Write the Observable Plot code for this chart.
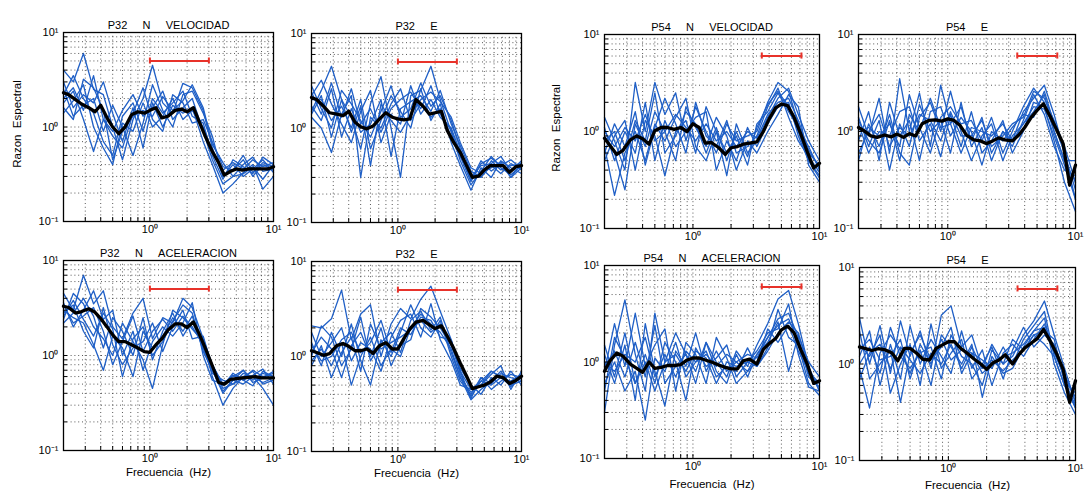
<!DOCTYPE html>
<html><head><meta charset="utf-8">
<script src="https://cdn.jsdelivr.net/npm/d3@7"></script>
<script src="https://cdn.jsdelivr.net/npm/@observablehq/plot@0.6"></script>
<style>
body{margin:0;background:#fff;}
#root{position:relative;width:1086px;height:493px;overflow:hidden;font-family:"Liberation Sans",Arial,sans-serif;}
#root svg{position:absolute;overflow:visible;}
.ylab{position:absolute;white-space:nowrap;font-size:11.5px;color:#000;transform:translate(-50%,-50%) rotate(-90deg);line-height:1;}
</style></head><body><div id="root"></div>
<script>
// ---- data ----
const freqMean = [0.2,0.22,0.25,0.28,0.32,0.36,0.4,0.45,0.5,0.56,0.63,0.71,0.8,0.9,1.0,1.12,1.25,1.4,1.6,1.8,2.0,2.25,2.5,2.8,3.2,3.6,4.0,4.5,5.0,5.6,6.3,7.1,8.0,9.0,10];
const freqBlue = [0.2,0.24,0.29,0.35,0.42,0.5,0.6,0.73,0.88,1.05,1.27,1.53,1.85,2.2,2.7,3.2,3.9,4.7,5.7,6.8,8.2,10];

const titles = ["P32\u00a0\u00a0\u00a0\u00a0\u00a0N\u00a0\u00a0\u00a0\u00a0\u00a0VELOCIDAD","P32\u00a0\u00a0\u00a0\u00a0\u00a0E",
  "P32\u00a0\u00a0\u00a0\u00a0\u00a0N\u00a0\u00a0\u00a0\u00a0\u00a0ACELERACION","P32\u00a0\u00a0\u00a0\u00a0\u00a0E",
  "P54\u00a0\u00a0\u00a0\u00a0\u00a0N\u00a0\u00a0\u00a0\u00a0\u00a0VELOCIDAD","P54\u00a0\u00a0\u00a0\u00a0\u00a0E",
  "P54\u00a0\u00a0\u00a0\u00a0\u00a0N\u00a0\u00a0\u00a0\u00a0\u00a0ACELERACION","P54\u00a0\u00a0\u00a0\u00a0\u00a0E"];
const yAxisTitle = "Razon\u00a0\u00a0Espectral";
const xAxisTitle = "Frecuencia\u00a0\u00a0(Hz)";
const xTicks = [1,10];
const xTickLabels = ["10\u2070","10\u00b9"];
const yTicks = [0.1,1,10];
const yTickLabels = ["10\u207b\u00b9","10\u2070","10\u00b9"];
const xGrid = [0.3,0.4,0.5,0.6,0.7,0.8,0.9,1,2,3,4,5,6,7,8,9];
const yGrid = [0.2,0.3,0.4,0.5,0.6,0.7,0.8,0.9,1,2,3,4,5,6,7,8,9];
const barP32 = {x1:1.0, x2:3.0, y:5};
const barP54 = {x1:3.5, x2:7.2, y:6};

const meanP32NVel = [2.3,2.2,1.95,1.75,1.6,1.45,1.7,1.25,1.0,0.85,1.0,1.35,1.45,1.4,1.5,1.6,1.25,1.3,1.5,1.55,1.45,1.6,1.15,0.8,0.55,0.42,0.31,0.34,0.36,0.35,0.36,0.36,0.36,0.36,0.38];
const meanP32EVel = [2.1,2.0,1.7,1.45,1.4,1.35,1.5,1.15,1.03,0.98,1.05,1.25,1.45,1.3,1.25,1.22,1.25,2.0,1.7,1.4,1.45,1.5,0.95,0.72,0.55,0.4,0.3,0.31,0.36,0.4,0.4,0.4,0.34,0.39,0.4];
const meanP32NAcc = [3.3,3.2,2.8,2.9,3.1,2.85,2.45,2.0,1.65,1.4,1.4,1.3,1.2,1.1,1.08,1.3,1.5,1.85,2.15,2.15,1.97,2.25,1.7,1.2,0.78,0.52,0.5,0.56,0.57,0.58,0.59,0.6,0.58,0.58,0.58];
const meanP32EAcc = [1.15,1.1,1.03,1.07,1.3,1.37,1.28,1.15,1.15,1.2,1.08,1.3,1.4,1.2,1.2,1.55,1.95,2.3,2.4,2.15,1.97,2.1,1.65,1.25,0.85,0.62,0.46,0.48,0.5,0.54,0.62,0.6,0.52,0.56,0.62];
const meanP54NVel = [0.85,0.72,0.58,0.64,0.82,0.9,0.84,0.74,1.02,1.1,1.1,1.05,1.1,1.0,1.2,1.1,0.76,0.77,0.68,0.58,0.68,0.7,0.74,0.76,0.78,1.0,1.35,1.75,1.92,1.85,1.4,0.95,0.62,0.42,0.47];
const meanP54EVel = [1.1,1.02,0.9,0.87,0.92,0.88,0.94,0.87,0.95,0.9,1.2,1.3,1.32,1.28,1.35,1.3,1.15,0.92,0.82,0.8,0.75,0.8,0.86,0.82,0.8,0.92,1.1,1.4,1.65,1.93,1.45,1.05,0.75,0.28,0.45];
const meanP54NAcc = [0.8,1.02,1.24,1.15,0.95,0.86,0.78,1.0,0.86,0.88,0.92,0.92,0.94,1.05,1.1,1.1,1.05,1.0,0.93,0.88,0.85,0.85,1.03,1.07,0.95,1.35,1.55,1.75,2.15,2.35,2.0,1.35,0.95,0.6,0.64];
const meanP54EAcc = [1.5,1.45,1.38,1.44,1.4,1.3,1.08,1.45,1.45,1.3,1.12,1.1,1.45,1.58,1.7,1.7,1.45,1.3,1.12,1.0,0.88,1.03,1.1,1.25,1.0,1.26,1.47,1.65,1.83,2.28,1.75,1.28,0.88,0.4,0.67];

const blueP32NVel = [
  [4.0,3.0,6.0,2.5,2.2,1.0,0.45,1.2,2.0,4.5,1.8,1.4,2.9,2.6,1.5,0.6,0.3,0.35,0.45,0.3,0.4,0.35],
  [2.0,2.6,1.5,3.5,1.2,0.9,1.5,2.2,1.3,1.6,2.4,1.2,1.6,2.0,0.9,0.45,0.25,0.3,0.32,0.38,0.28,0.4],
  [1.4,1.9,2.8,1.0,0.6,0.4,1.1,0.9,1.8,1.0,1.3,2.0,1.2,1.5,1.0,0.55,0.35,0.42,0.36,0.45,0.38,0.42],
  [3.0,1.6,2.2,1.8,3.0,1.4,0.7,1.6,0.6,1.8,1.0,1.7,1.4,1.6,0.7,0.4,0.2,0.25,0.33,0.4,0.22,0.3],
  [1.8,2.4,1.2,0.55,1.2,0.8,0.6,1.4,2.6,1.2,0.9,2.2,1.8,1.1,1.2,0.7,0.38,0.35,0.5,0.33,0.42,0.38],
  [2.5,1.3,1.7,2.0,0.9,1.7,1.0,0.5,1.1,2.8,1.5,1.0,2.2,2.4,1.4,0.8,0.3,0.4,0.3,0.36,0.45,0.33],
  [2.2,3.5,2.0,1.4,0.7,0.5,1.3,1.8,0.9,2.0,1.4,1.8,2.4,1.3,1.1,0.5,0.28,0.45,0.38,0.32,0.48,0.4],
  [1.6,1.2,3.2,2.6,1.5,0.45,0.9,1.3,1.5,1.3,2.1,1.5,1.9,2.8,1.6,0.65,0.42,0.3,0.4,0.48,0.34,0.36]];
const blueP32EVel = [
  [1.5,2.5,4.5,2.0,1.3,0.6,1.8,3.5,1.0,0.3,2.2,2.5,4.5,2.0,0.9,0.45,0.25,0.35,0.5,0.38,0.32,0.4],
  [2.8,1.6,1.0,2.5,1.8,1.2,0.8,1.5,2.8,1.3,1.6,3.0,1.7,2.2,1.2,0.6,0.3,0.4,0.42,0.5,0.35,0.45],
  [1.3,1.0,0.55,1.4,2.2,0.3,1.3,1.0,1.8,2.6,1.2,1.8,1.3,1.6,0.8,0.5,0.32,0.3,0.4,0.33,0.42,0.36],
  [2.2,3.2,1.8,1.1,0.7,1.5,2.5,0.7,1.4,1.1,2.8,1.4,2.0,1.3,1.0,0.55,0.28,0.45,0.35,0.42,0.3,0.38],
  [1.7,1.2,2.6,0.8,1.6,0.9,1.1,2.0,0.5,1.6,1.9,2.2,1.5,2.5,1.1,0.65,0.35,0.3,0.45,0.36,0.4,0.42],
  [2.0,2.0,1.2,1.7,1.0,2.0,0.6,1.2,2.2,1.5,1.0,2.6,1.2,1.8,0.7,0.4,0.22,0.38,0.3,0.45,0.38,0.33],
  [2.4,1.4,3.0,1.3,2.6,1.1,1.6,0.9,1.6,2.0,2.4,1.6,2.8,1.4,0.95,0.5,0.27,0.42,0.48,0.4,0.46,0.37],
  [1.4,2.2,0.8,2.0,0.9,1.7,0.4,1.8,1.2,0.9,1.4,2.0,2.4,1.9,1.3,0.7,0.38,0.33,0.38,0.44,0.3,0.43]];
const blueP32NAcc = [
  [4.5,3.0,7.0,3.5,4.8,2.0,1.5,2.8,4.0,1.5,2.5,2.2,4.0,3.2,1.5,0.8,0.5,0.6,0.7,0.55,0.65,0.6],
  [3.0,2.5,2.2,1.3,0.7,1.6,1.2,0.6,1.8,1.2,1.6,2.5,1.8,2.6,1.2,0.7,0.4,0.55,0.5,0.6,0.52,0.58],
  [2.4,4.5,3.5,2.0,1.5,1.0,2.2,1.4,0.9,0.45,1.3,3.0,2.5,1.9,1.4,0.6,0.3,0.45,0.6,0.68,0.5,0.55],
  [3.6,2.0,3.0,4.8,2.4,3.0,1.0,1.8,0.7,1.4,2.0,1.6,2.2,3.6,1.0,0.55,0.5,0.62,0.55,0.48,0.68,0.6],
  [2.8,3.4,1.8,1.2,3.2,1.3,0.8,1.2,1.4,2.2,1.1,2.0,3.0,1.5,1.6,0.75,0.45,0.5,0.65,0.6,0.45,0.3],
  [2.2,2.8,4.0,2.6,1.2,2.5,1.8,1.0,2.5,0.9,1.8,2.8,1.6,2.3,1.2,0.65,0.55,0.5,0.58,0.7,0.6,0.65],
  [3.4,2.2,2.6,3.2,1.8,0.8,1.4,2.6,1.1,1.8,2.4,1.8,2.6,2.0,1.3,0.8,0.48,0.65,0.55,0.62,0.72,0.5],
  [2.6,3.8,2.4,1.6,2.8,1.9,0.6,1.5,2.0,1.0,1.4,2.3,3.4,2.8,1.1,0.7,0.42,0.55,0.7,0.52,0.58,0.68]];
const blueP32EAcc = [
  [2.1,2.0,2.5,5.0,1.5,2.8,3.5,1.0,2.2,3.2,2.5,4.0,5.5,3.0,1.5,0.7,0.45,0.55,0.7,0.6,0.5,0.6],
  [0.9,1.2,0.8,1.4,0.5,1.0,1.6,0.8,1.2,1.0,2.0,2.8,2.2,1.8,1.2,0.6,0.35,0.45,0.55,0.7,0.5,0.55],
  [1.4,0.8,1.8,1.0,2.2,0.9,0.5,1.5,1.0,1.8,3.5,2.0,1.6,2.4,1.0,0.55,0.4,0.6,0.45,0.55,0.65,0.6],
  [1.1,1.6,1.2,0.6,1.3,1.8,1.0,2.0,0.8,1.3,1.5,3.2,2.6,2.0,1.3,0.75,0.5,0.4,0.6,0.5,0.7,0.5],
  [1.8,1.0,1.4,2.0,0.9,1.4,1.2,0.7,1.6,2.4,2.8,1.6,3.6,1.5,0.9,0.5,0.45,0.5,0.65,0.8,0.45,0.7],
  [0.8,1.3,0.6,1.1,1.6,0.7,2.2,1.2,1.4,1.6,1.9,2.4,1.8,2.2,1.4,0.65,0.38,0.55,0.5,0.6,0.55,0.65],
  [1.0,2.1,1.6,0.8,1.2,2.6,0.9,1.4,1.8,1.1,2.4,3.0,1.9,2.6,1.1,0.6,0.42,0.5,0.7,0.62,0.48,0.62],
  [1.3,0.9,1.0,1.5,1.8,1.1,1.4,2.4,1.1,2.0,1.7,2.6,2.4,1.6,1.5,0.7,0.36,0.6,0.52,0.66,0.6,0.56]];
const blueP54NVel = [
  [1.4,0.8,0.4,3.2,1.0,3.2,1.5,2.5,0.8,1.8,1.0,0.6,1.2,0.8,0.9,1.0,2.0,3.2,2.6,1.2,0.6,0.45],
  [0.7,0.22,0.6,1.0,0.5,1.2,0.8,1.4,2.2,0.7,0.5,1.0,0.35,1.2,0.6,0.8,1.4,2.2,2.8,1.5,0.8,0.5],
  [1.1,0.5,1.0,0.6,2.0,0.5,1.3,0.7,1.0,1.4,1.6,0.4,0.8,0.5,1.1,0.7,1.2,1.8,2.0,0.9,0.5,0.35],
  [0.5,0.9,1.3,0.4,1.3,0.9,0.35,1.0,1.3,0.6,1.8,1.0,0.6,0.9,0.45,1.2,1.6,2.5,1.6,1.1,0.7,0.4],
  [0.9,0.6,0.25,1.2,0.7,1.6,1.0,0.5,1.8,1.1,0.7,1.4,0.9,0.4,0.8,0.6,1.0,1.5,2.4,1.8,0.45,0.3],
  [0.6,1.2,0.7,1.6,0.45,1.1,2.2,1.2,0.6,2.0,0.9,0.7,1.3,0.6,0.7,0.9,1.8,2.8,1.4,0.8,0.55,0.38],
  [1.0,0.7,1.1,0.8,1.5,0.8,1.0,1.5,1.1,0.8,1.2,0.8,1.0,0.7,1.0,0.85,1.5,2.0,2.2,1.3,0.65,0.42],
  [0.8,1.0,0.5,1.3,0.8,2.5,0.6,0.9,1.6,1.2,0.6,1.1,0.5,1.0,0.55,1.1,1.9,2.6,1.8,1.0,0.5,0.33]];
const blueP54EVel = [
  [1.8,0.9,2.2,0.6,3.5,1.0,2.5,0.7,3.0,1.2,1.8,0.8,1.4,0.6,1.0,0.8,1.6,2.2,3.0,1.5,0.6,0.2],
  [0.5,1.2,0.7,1.5,0.6,0.45,1.4,2.0,1.0,2.6,1.0,0.5,0.9,1.2,0.5,0.9,1.2,1.6,2.4,1.0,0.5,0.3],
  [1.2,0.6,1.0,0.9,1.6,1.8,0.8,1.2,0.55,1.5,0.7,1.6,0.6,0.8,1.3,0.6,1.0,2.0,1.8,0.8,0.3,0.15],
  [0.8,1.6,0.5,2.0,0.9,1.3,0.5,1.6,1.8,0.9,1.4,1.0,0.45,1.0,0.8,1.1,1.5,1.4,2.6,1.2,0.6,0.25],
  [1.4,0.7,1.3,0.4,1.2,0.7,1.9,1.0,1.3,0.6,2.0,0.7,1.1,0.5,1.0,0.7,1.3,2.4,1.5,0.7,0.4,0.35],
  [1.0,1.1,0.9,1.2,0.7,2.4,1.1,0.6,1.4,1.8,1.2,1.3,0.8,1.4,0.6,1.0,1.8,2.8,2.0,1.0,0.5,0.5],
  [0.6,1.0,1.5,0.7,1.1,0.9,1.5,1.3,0.8,1.6,0.9,0.9,1.3,0.7,0.9,1.2,1.4,2.6,2.2,1.3,0.7,0.3],
  [1.3,0.8,0.6,1.3,0.5,1.5,1.0,2.2,1.1,1.2,0.6,1.1,1.0,0.9,1.2,0.8,1.2,1.8,1.7,0.9,0.45,0.2]];
const blueP54NAcc = [
  [0.3,1.5,4.4,1.2,0.5,3.2,1.0,2.0,1.2,0.6,1.6,1.0,0.7,1.3,0.9,1.5,2.5,4.5,5.5,2.5,0.9,0.5],
  [1.2,0.6,1.5,0.4,2.5,0.8,0.35,1.3,0.9,2.0,0.8,1.3,0.8,1.0,1.2,1.1,1.8,2.8,3.2,1.8,0.7,0.55],
  [0.8,2.5,0.9,3.2,0.9,1.5,2.2,0.5,1.6,1.2,0.6,1.8,1.1,0.6,0.8,1.0,2.2,1.6,2.4,1.3,0.8,0.6],
  [0.6,1.0,0.5,0.8,0.25,1.1,0.8,1.6,0.7,1.0,1.3,0.7,0.9,0.8,1.4,0.9,1.4,3.5,1.8,1.5,0.6,0.45],
  [1.5,0.7,2.0,0.6,1.2,0.6,1.6,1.0,0.4,1.4,0.9,1.1,1.5,0.7,1.0,1.3,2.0,2.2,4.0,1.2,0.55,0.5],
  [0.9,1.3,0.7,1.6,0.7,2.4,0.6,0.9,1.2,0.8,1.6,0.8,0.6,1.2,0.7,1.2,1.6,2.6,0.8,1.9,1.0,0.7],
  [1.0,0.8,1.2,1.0,1.8,0.7,1.2,0.7,1.3,1.0,1.2,0.9,1.2,1.0,0.8,1.2,1.8,2.4,2.8,1.6,0.75,0.6],
  [0.5,1.8,1.1,0.6,1.0,0.5,1.0,1.2,0.8,1.3,1.1,0.6,1.0,0.9,1.0,0.9,1.3,2.0,2.6,2.0,0.85,0.5]];
const blueP54EAcc = [
  [3.0,1.0,2.5,0.8,2.8,1.2,2.2,0.9,3.2,4.0,1.5,2.0,0.9,1.6,1.0,1.2,2.0,2.8,4.5,2.0,0.9,0.4],
  [1.2,2.2,0.6,1.6,0.7,2.5,1.0,1.8,1.2,0.8,2.2,0.9,1.4,0.6,1.3,1.6,1.2,1.8,2.6,1.4,0.7,0.35],
  [0.9,0.35,1.3,2.0,1.4,0.8,1.4,0.6,2.0,1.5,1.0,1.6,0.45,1.2,0.8,0.9,1.5,2.2,3.0,1.0,0.5,0.3],
  [1.6,1.2,2.0,0.5,1.0,1.6,0.6,2.6,0.9,1.3,1.8,0.7,1.0,1.5,0.7,1.4,2.4,1.5,2.0,1.6,0.8,0.4],
  [2.2,0.7,1.0,1.4,0.4,1.3,2.0,1.1,1.5,2.4,0.8,1.3,1.1,0.9,1.5,1.0,1.8,2.5,3.5,1.2,0.6,0.35],
  [1.0,1.5,0.8,2.4,1.2,0.9,1.3,1.5,0.7,2.0,1.2,1.0,0.6,1.4,1.0,1.8,1.4,2.0,2.2,1.8,0.65,0.5],
  [1.4,1.8,1.1,1.2,1.8,0.7,1.6,1.0,1.8,1.1,1.4,1.3,0.8,1.0,1.2,1.3,1.6,2.2,2.4,1.3,0.75,0.45],
  [0.7,1.3,1.6,0.9,1.5,1.1,0.8,1.3,1.0,1.6,0.9,1.5,0.9,1.1,0.85,1.1,1.4,2.0,1.6,1.2,0.6,0.38]];

// ---- layout ----
const BLUE = "#1f5fc6", RED = "#e8322a";
const FONT = "'Liberation Sans', Arial, Helvetica, sans-serif";
const panels = [
  {title:titles[0], mean:meanP32NVel, blue:blueP32NVel, bar:barP32, l:63, t:32, r:273, b:221, ylab:[18,124]},
  {title:titles[1], mean:meanP32EVel, blue:blueP32EVel, bar:barP32, l:311, t:33, r:521, b:222},
  {title:titles[2], mean:meanP32NAcc, blue:blueP32NAcc, bar:barP32, l:63, t:260, r:273, b:450, xlab:25},
  {title:titles[3], mean:meanP32EAcc, blue:blueP32EAcc, bar:barP32, l:311, t:261, r:521, b:451, xlab:25},
  {title:titles[4], mean:meanP54NVel, blue:blueP54NVel, bar:barP54, l:604, t:34, r:819, b:228, ylab:[557,128]},
  {title:titles[5], mean:meanP54EVel, blue:blueP54EVel, bar:barP54, l:858, t:34, r:1075, b:228},
  {title:titles[6], mean:meanP54NAcc, blue:blueP54NAcc, bar:barP54, l:604, t:265, r:819, b:458, xlab:29},
  {title:titles[7], mean:meanP54EAcc, blue:blueP54EAcc, bar:barP54, l:859, t:267, r:1075, b:460, xlab:28}
];

const root = document.getElementById("root");
const mL = 60, mR = 14, mT = 26, mB = 40;
for (const p of panels) {
  const w = p.r - p.l, h = p.b - p.t;
  const meanData = freqMean.map((f, i) => ({f, v: p.mean[i]}));
  const blueData = p.blue.flatMap((c, k) => c.map((v, i) => ({f: freqBlue[i], v, k})));
  const cap = 1.075;
  const marks = [
    Plot.gridX(xGrid, {stroke: "#222", strokeOpacity: 0.75, strokeWidth: 1, strokeDasharray: "1,2.8"}),
    Plot.gridY(yGrid, {stroke: "#222", strokeOpacity: 0.75, strokeWidth: 1, strokeDasharray: "1,2.8"}),
    Plot.line(blueData, {x: "f", y: "v", z: "k", stroke: BLUE, strokeWidth: 1.3}),
    Plot.line(meanData, {x: "f", y: "v", stroke: "#000", strokeWidth: 3.3, strokeLinejoin: "round"}),
    Plot.ruleY([p.bar], {y: "y", x1: "x1", x2: "x2", stroke: RED, strokeWidth: 2}),
    Plot.ruleX([p.bar], {x: "x1", y1: d => d.y / cap, y2: d => d.y * cap, stroke: RED, strokeWidth: 2}),
    Plot.ruleX([p.bar], {x: "x2", y1: d => d.y / cap, y2: d => d.y * cap, stroke: RED, strokeWidth: 2}),
    Plot.frame({stroke: "#000", strokeWidth: 1.3}),
    Plot.axisX(xGrid.concat([0.2]), {tickSize: -4, tickFormat: () => "", stroke: "#000", label: null}),
    Plot.axisY(yGrid, {tickSize: -4, tickFormat: () => "", stroke: "#000", label: null}),
    Plot.axisX(xTicks, {tickSize: 0, tickPadding: 4, tickFormat: d => xTickLabels[xTicks.indexOf(d)], fontSize: 11, fill: "#000", label: null}),
    Plot.axisY(yTicks, {tickSize: 0, tickPadding: 5, tickFormat: d => yTickLabels[yTicks.indexOf(d)], fontSize: 11, fill: "#000", label: null}),
    Plot.text([p.title], {frameAnchor: "top", dy: -11, text: d => d, fontSize: 11, fill: "#000"})
  ];
  if (p.xlab) marks.push(Plot.text([xAxisTitle], {frameAnchor: "bottom", dy: p.xlab, text: d => d, fontSize: 11.5, fill: "#000"}));
  const svg = Plot.plot({
    width: w + mL + mR, height: h + mT + mB,
    marginLeft: mL, marginRight: mR, marginTop: mT, marginBottom: mB,
    x: {type: "log", domain: [0.2, 10], label: null},
    y: {type: "log", domain: [0.1, 10], label: null},
    style: {background: "transparent", fontFamily: FONT, fontSize: "11px", color: "#000"},
    marks
  });
  svg.style.left = (p.l - mL) + "px";
  svg.style.top = (p.t - mT) + "px";
  root.appendChild(svg);
  if (p.ylab) {
    const d = document.createElement("div");
    d.className = "ylab";
    d.textContent = yAxisTitle;
    d.style.left = p.ylab[0] + "px";
    d.style.top = p.ylab[1] + "px";
    root.appendChild(d);
  }
}
</script></body></html>
